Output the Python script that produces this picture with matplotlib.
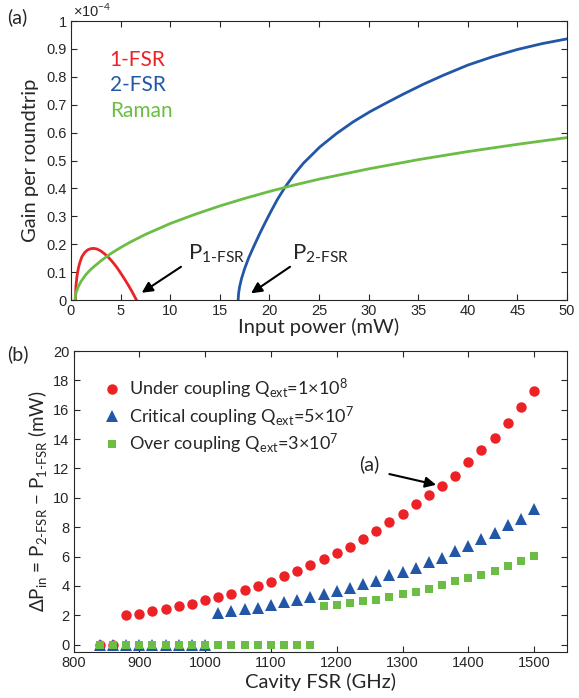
"""ganancia por roundtrip y diferencia de umbrales"""

import numpy as np
import matplotlib
matplotlib.use('Agg')
from matplotlib import pyplot as plt

plt.rcParams['font.family'] = ['Lato', 'DejaVu Sans']
plt.rcParams['mathtext.fontset'] = 'custom'
plt.rcParams['mathtext.rm'] = 'Lato'
plt.rcParams['mathtext.it'] = 'Lato:italic'
plt.rcParams['mathtext.bf'] = 'Lato:bold'

# (a) ganancia (x1e-4) vs potencia de entrada (mW)
p_1fsr = [0.45, 0.5, 0.6, 0.75, 0.9, 1.1, 1.4, 1.7, 2.0, 2.3, 2.6, 3.0, 3.4,
          3.8, 4.2, 4.6, 5.0, 5.4, 5.8, 6.2, 6.6]
g_1fsr = [0, 0.05, 0.085, 0.115, 0.135, 0.155, 0.171, 0.180, 0.184, 0.185,
          0.183, 0.176, 0.165, 0.152, 0.136, 0.118, 0.097, 0.075, 0.052,
          0.027, 0]

p_2fsr = [16.85, 16.9, 17.0, 17.2, 17.5, 17.9, 18.4, 19.0, 19.5, 20.06, 20.8,
          21.57, 22.5, 23.42, 25.1, 26.78, 28.46, 30.14, 31.82, 33.5, 35.5,
          37.5, 40.0, 42.5, 45.0, 47.5, 50.0]
g_2fsr = [0, 0.025, 0.048, 0.078, 0.112, 0.15, 0.19, 0.236, 0.272, 0.311,
          0.36, 0.404, 0.45, 0.49, 0.549, 0.597, 0.639, 0.675, 0.707, 0.738,
          0.773, 0.805, 0.842, 0.872, 0.898, 0.919, 0.936]

p_raman = [0.4, 0.5, 0.7, 1.0, 1.5, 2, 3, 4, 5, 6, 7.5, 10, 12.5, 15, 17.5,
           20, 22.5, 25, 30, 35, 40, 45, 50]
g_raman = [0, 0.025, 0.045, 0.066, 0.091, 0.11, 0.14, 0.166, 0.188, 0.208,
           0.235, 0.274, 0.307, 0.337, 0.364, 0.389, 0.412, 0.433, 0.47,
           0.503, 0.532, 0.558, 0.582]

# (b) diferencia de potencias vs FSR
fsr = [840 + 20 * k for k in range(34)]
dp_under = [0, 0, 2.0, 2.09, 2.3, 2.45, 2.6, 2.75, 3.02, 3.23, 3.48, 3.73,
            3.98, 4.3, 4.66, 5.02, 5.41, 5.84, 6.25, 6.68, 7.23, 7.77, 8.36,
            8.89, 9.55, 10.18, 10.8, 11.52, 12.41, 13.23, 14.1, 15.1, 16.16,
            17.27]
dp_critical = [0] * 9 + [2.18, 2.3, 2.4, 2.5, 2.68, 2.89, 3.07, 3.25, 3.48,
                         3.66, 3.86, 4.16, 4.36, 4.73, 4.95, 5.25, 5.61, 5.9,
                         6.36, 6.75, 7.18, 7.61, 8.14, 8.55, 9.25]
dp_over = [0] * 17 + [2.6, 2.7, 2.82, 2.95, 3.05, 3.25, 3.48, 3.61, 3.82,
                      4.07, 4.32, 4.52, 4.77, 5.02, 5.34, 5.68, 6.02]

ROJO = '#EC2227'
AZUL = '#2157A6'
VERDE = '#6CBD45'
GRIS = '#262626'


def estilo(ax):
    ax.tick_params(direction='in', top=True, right=True, length=4,
                   width=0.8, colors=GRIS, labelsize=10.5, pad=3)
    for s in ax.spines.values():
        s.set_color(GRIS)
        s.set_linewidth(0.8)
    for lab in ax.get_xticklabels() + ax.get_yticklabels():
        lab.set_fontfamily('Liberation Sans')


fig = plt.figure(figsize=(5.79, 6.98), dpi=100)
axA = fig.add_axes([0.1226, 0.5702, 0.8567, 0.3997])
axB = fig.add_axes([0.127, 0.0659, 0.8523, 0.4312])

# ---- panel (a)
series = [(p_1fsr, g_1fsr, ROJO, '1-FSR'),
          (p_2fsr, g_2fsr, AZUL, '2-FSR'),
          (p_raman, g_raman, VERDE, 'Raman')]
for i, (x, y, c, nombre) in enumerate(series):
    axA.plot(x, y, color=c, lw=2.0)
    axA.text(0.078, 0.862 - i * 0.093, nombre, color=c, fontsize=15,
             transform=axA.transAxes, va='center', ha='left')

axA.set_xlim(0, 50)
axA.set_ylim(0, 1)
axA.set_xticks(np.arange(0, 51, 5))
axA.set_yticks(np.arange(0, 1.01, 0.1))
axA.set_yticklabels(['0', '0.1', '0.2', '0.3', '0.4', '0.5', '0.6', '0.7',
                     '0.8', '0.9', '1'])
axA.set_xlabel('Input power (mW)', fontsize=14.5, color=GRIS, labelpad=0)
axA.set_ylabel('Gain per roundtrip', fontsize=14.5, color=GRIS, labelpad=5)
axA.text(0.005, 1.005, '×10$^{-4}$', transform=axA.transAxes,
         fontsize=10.5, color=GRIS, family='Liberation Sans', va='bottom')

flecha = dict(arrowstyle='-|>', color='black', lw=1.5, mutation_scale=16,
              shrinkA=0, shrinkB=0)
axA.annotate('', xy=(7.13, 0.026), xytext=(11.09, 0.119), arrowprops=flecha)
axA.annotate('', xy=(18.15, 0.024), xytext=(22.08, 0.119), arrowprops=flecha)
axA.text(11.8, 0.143, 'P$_{\\rm 1\\text{-}FSR}$', fontsize=16, color=GRIS,
         va='baseline')
axA.text(22.25, 0.143, 'P$_{\\rm 2\\text{-}FSR}$', fontsize=16, color=GRIS,
         va='baseline')
estilo(axA)

# ---- panel (b)
axB.plot(fsr, dp_under, 'o', color=ROJO, ms=7.5, mew=0,
         label='Under coupling Q$_{\\rm ext}$=1×10$^{8}$')
axB.plot(fsr, dp_critical, '^', color=AZUL, ms=8.5, mew=0,
         label='Critical coupling Q$_{\\rm ext}$=5×10$^{7}$')
axB.plot(fsr, dp_over, 's', color=VERDE, ms=6, mew=0,
         label='Over coupling Q$_{\\rm ext}$=3×10$^{7}$')

axB.set_xlim(800, 1550)
axB.set_ylim(-0.5, 20)
axB.set_xticks(np.arange(800, 1501, 100))
axB.set_yticks(np.arange(0, 21, 2))
axB.set_xlabel('Cavity FSR (GHz)', fontsize=14.5, color=GRIS, labelpad=2)
axB.set_ylabel('ΔP$_{\\rm in}$ = P$_{\\rm 2\\text{-}FSR}$ − '
               'P$_{\\rm 1\\text{-}FSR}$ (mW)', fontsize=13.5, color=GRIS,
               labelpad=3)
leg = axB.legend(loc='upper left', bbox_to_anchor=(0.06, 0.915),
                 frameon=False, fontsize=13, handlelength=1.0,
                 handletextpad=0.45, borderpad=0, borderaxespad=0,
                 labelspacing=0.2)
for t in leg.get_texts():
    t.set_color(GRIS)

axB.annotate('', xy=(1351, 10.89), xytext=(1280, 11.62), arrowprops=flecha)
axB.text(1250, 12.3, '(a)', fontsize=14, color=GRIS, ha='center',
         va='center')
estilo(axB)

fig.text(0.012, 0.975, '(a)', fontsize=14, color=GRIS, va='center')
fig.text(0.012, 0.492, '(b)', fontsize=14, color=GRIS, va='center')

fig.savefig('out.png', dpi=100)
